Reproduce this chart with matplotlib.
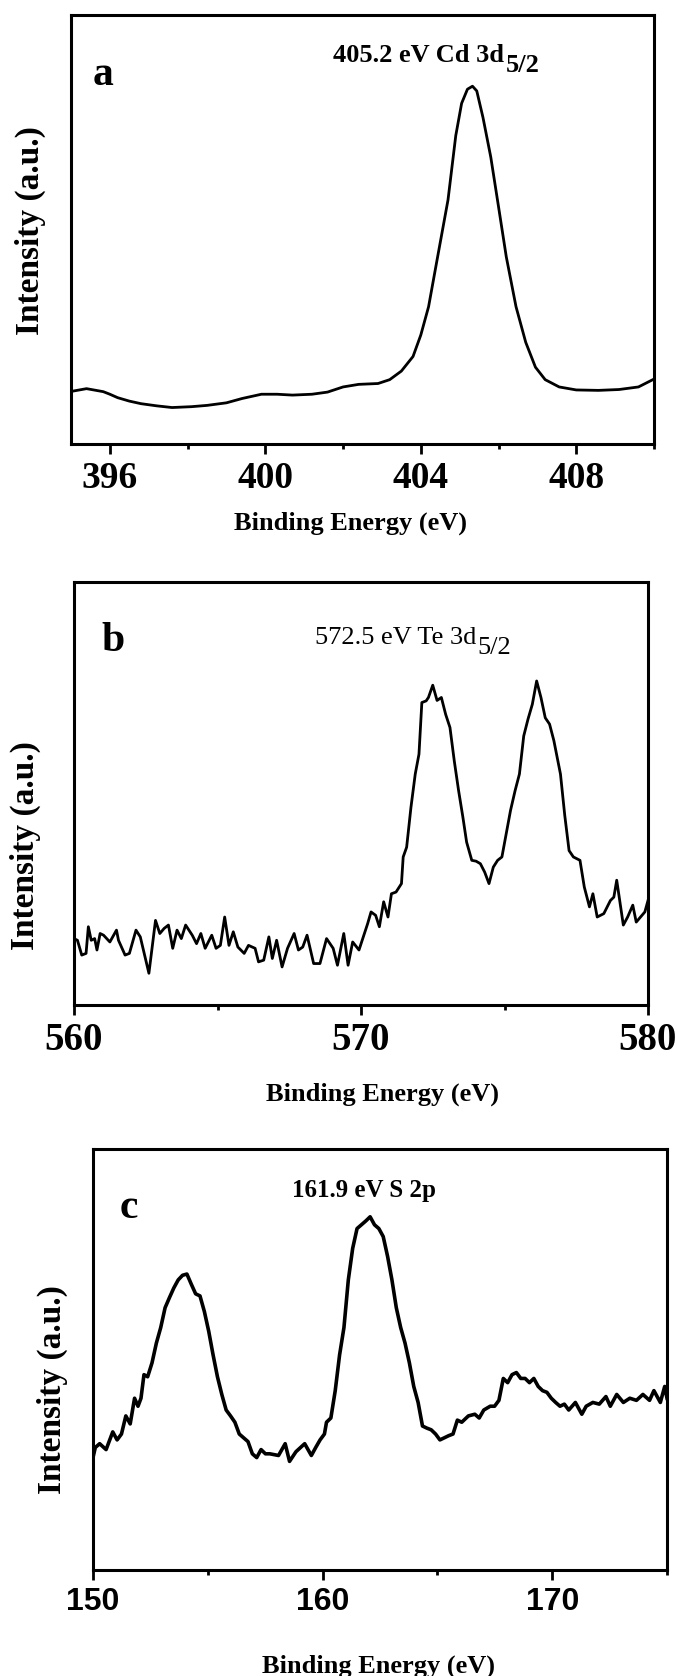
"""XPS spectra of Cd 3d, Te 3d and S 2p regions, three stacked panels."""

import matplotlib

matplotlib.use("Agg")
import matplotlib.pyplot as plt  # noqa: E402
from matplotlib.ticker import MultipleLocator  # noqa: E402

plt.rcParams["font.family"] = ["Liberation Serif", "DejaVu Serif"]

# panel a: Cd 3d5/2 (binding energy eV, intensity a.u.)
cd_energy = [
    394.97, 395.4, 395.83, 396.0, 396.2, 396.5, 396.8, 397.2, 397.6, 398.1,
    398.5, 399.0, 399.4, 399.9, 400.3, 400.7, 401.2, 401.6, 402.0, 402.4,
    402.9, 403.2, 403.5, 403.8, 404.0, 404.2, 404.4, 404.7, 404.9, 405.05,
    405.2, 405.33, 405.44, 405.6, 405.8, 406.0, 406.2, 406.45, 406.7, 406.95,
    407.2, 407.56, 408.0, 408.57, 409.1, 409.6, 409.97,
]
cd_counts = [
    12.2, 12.9, 12.2, 11.6, 10.8, 10.0, 9.4, 8.9, 8.5, 8.7,
    9.0, 9.6, 10.6, 11.6, 11.6, 11.4, 11.6, 12.1, 13.3, 13.9,
    14.1, 15.0, 17.0, 20.4, 25.4, 32.0, 42.0, 56.9, 71.9, 79.4,
    82.7, 83.4, 82.3, 76.1, 66.9, 55.3, 43.6, 32.0, 23.7, 17.9,
    15.0, 13.3, 12.6, 12.5, 12.7, 13.3, 15.0,
]

# panel b: Te 3d5/2
te_energy = [
    560.00, 560.12, 560.27, 560.42, 560.50, 560.60, 560.72, 560.80, 560.91, 561.03,
    561.25, 561.48, 561.55, 561.78, 561.93, 562.16, 562.31, 562.61, 562.84, 562.99,
    563.14, 563.29, 563.44, 563.59, 563.74, 563.89, 564.12, 564.27, 564.42, 564.57,
    564.80, 564.95, 565.10, 565.25, 565.40, 565.55, 565.71, 565.93, 566.08, 566.31,
    566.43, 566.61, 566.79, 566.91, 567.06, 567.25, 567.44, 567.67, 567.82, 567.97,
    568.12, 568.35, 568.57, 568.80, 569.03, 569.18, 569.40, 569.55, 569.71, 569.93,
    570.23, 570.35, 570.51, 570.64, 570.79, 570.94, 571.06, 571.22, 571.41, 571.47,
    571.59, 571.74, 571.89, 572.02, 572.12, 572.27, 572.35, 572.50, 572.65, 572.80,
    572.95, 573.10, 573.25, 573.40, 573.55, 573.68, 573.86, 574.01, 574.16, 574.31,
    574.46, 574.61, 574.76, 574.91, 575.06, 575.21, 575.37, 575.52, 575.67, 575.82,
    575.97, 576.12, 576.27, 576.42, 576.57, 576.72, 576.95, 577.10, 577.25, 577.40,
    577.63, 577.78, 577.96, 578.08, 578.23, 578.46, 578.69, 578.81, 578.91, 579.14,
    579.29, 579.47, 579.59, 579.89, 580.00,
]
te_counts = [
    15.7, 15.3, 11.8, 12.2, 18.5, 15.3, 15.7, 13.0, 16.9, 16.5,
    14.9, 17.7, 15.3, 11.8, 12.2, 17.7, 16.1, 7.5, 20.0, 16.9,
    18.1, 18.9, 13.4, 17.7, 15.7, 18.9, 16.5, 14.5, 16.9, 13.4,
    16.5, 13.4, 14.1, 20.8, 14.1, 17.3, 13.7, 12.2, 14.1, 13.4,
    10.2, 10.6, 16.1, 11.0, 15.3, 9.0, 13.4, 16.9, 13.0, 13.7,
    16.5, 9.8, 9.8, 15.7, 13.4, 9.4, 16.9, 9.4, 14.9, 13.0,
    19.2, 22.0, 21.2, 18.5, 24.4, 20.8, 26.3, 26.7, 28.7, 35.0,
    37.3, 46.7, 54.6, 59.3, 71.5, 71.9, 72.7, 75.6, 72.0, 72.7,
    68.7, 65.6, 57.7, 50.7, 44.4, 38.5, 34.2, 34.0, 33.4, 31.4,
    28.7, 32.6, 34.2, 35.0, 40.5, 46.0, 50.7, 54.6, 63.6, 67.6,
    71.1, 76.6, 72.7, 67.9, 66.4, 62.5, 54.6, 44.8, 36.5, 35.0,
    34.2, 27.9, 23.2, 26.3, 20.8, 21.6, 24.7, 25.5, 29.5, 18.9,
    20.8, 23.6, 19.6, 22.0, 24.7,
]

# panel c: S 2p
s_energy = [
    150.00, 150.10, 150.29, 150.57, 150.86, 151.05, 151.24, 151.43, 151.62, 151.81,
    151.96, 152.09, 152.22, 152.38, 152.57, 152.76, 152.95, 153.14, 153.33, 153.52,
    153.71, 153.90, 154.09, 154.28, 154.47, 154.66, 154.85, 155.04, 155.23, 155.42,
    155.61, 155.80, 155.99, 156.18, 156.37, 156.56, 156.75, 156.94, 157.13, 157.32,
    157.51, 157.70, 158.08, 158.37, 158.56, 158.84, 159.22, 159.51, 159.70, 159.89,
    160.08, 160.17, 160.36, 160.55, 160.74, 160.93, 161.12, 161.31, 161.50, 161.69,
    161.88, 162.07, 162.26, 162.45, 162.64, 162.83, 163.02, 163.21, 163.40, 163.59,
    163.78, 163.97, 164.16, 164.35, 164.54, 164.73, 164.92, 165.11, 165.30, 165.49,
    165.68, 165.87, 166.06, 166.35, 166.63, 166.82, 167.02, 167.30, 167.49, 167.68,
    167.87, 168.06, 168.25, 168.44, 168.63, 168.82, 169.01, 169.20, 169.39, 169.58,
    169.77, 169.96, 170.15, 170.34, 170.53, 170.72, 171.01, 171.29, 171.48, 171.77,
    172.05, 172.34, 172.53, 172.81, 173.10, 173.38, 173.67, 173.95, 174.24, 174.43,
    174.71, 174.90, 175.00,
]
s_counts = [
    26.7, 29.1, 30.0, 28.6, 32.8, 30.9, 32.3, 36.6, 34.7, 40.8,
    38.9, 40.8, 46.4, 45.9, 49.2, 53.9, 57.6, 62.3, 64.7, 67.0,
    68.9, 70.0, 70.3, 67.9, 65.6, 65.1, 61.4, 56.7, 51.1, 45.9,
    41.7, 38.0, 36.6, 35.1, 32.3, 31.4, 30.5, 27.6, 26.7, 28.6,
    27.6, 27.6, 27.2, 30.0, 25.8, 28.1, 30.0, 27.2, 29.1, 30.9,
    32.3, 35.1, 36.1, 42.6, 51.1, 57.6, 68.9, 76.4, 81.1, 82.0,
    82.9, 83.9, 82.0, 81.1, 79.2, 74.5, 68.9, 62.3, 57.6, 53.9,
    49.2, 43.6, 39.8, 34.2, 33.7, 33.3, 32.3, 30.9, 31.4, 31.9,
    32.3, 35.6, 35.1, 36.6, 37.0, 36.1, 38.0, 38.9, 38.9, 40.3,
    45.5, 44.5, 46.4, 46.9, 45.5, 45.5, 44.5, 45.5, 43.6, 42.6,
    42.2, 40.8, 39.8, 38.9, 39.4, 38.0, 39.8, 37.0, 38.9, 39.8,
    39.4, 41.2, 38.9, 41.7, 39.8, 40.8, 40.3, 41.7, 40.3, 42.6,
    39.8, 43.6, 40.8,
]

PANELS = [
    dict(x=cd_energy, y=cd_counts, xlim=(395, 410), major=4, minor=2,
         letter="a", note="405.2 eV Cd 3d", sub="5/2", note_xy=(401.74, 89.0),
         note_weight="bold", note_size=19, rect=[71, 15, 654, 444],
         tick_font=("Liberation Serif", 27), xlabel_xy=(0.480, -0.184),
         ylabel_xy=(-0.070, 0.497), letter_xy=(0.055, 0.86), lw=2.0),
    dict(x=te_energy, y=te_counts, xlim=(560, 580), major=10, minor=5,
         letter="b", note="572.5 eV Te 3d", sub="5/2", note_xy=(568.4, 85.3),
         note_weight="normal", note_size=19, rect=[74, 582, 648, 1005],
         tick_font=("Liberation Serif", 28), xlabel_xy=(0.538, -0.210),
         ylabel_xy=(-0.084, 0.376), letter_xy=(0.068, 0.86), lw=2.0),
    dict(x=s_energy, y=s_counts, xlim=(150, 175), major=10, minor=5,
         letter="c", note="161.9 eV S 2p", sub=None, note_xy=(158.67, 88.6),
         note_weight="bold", note_size=18, rect=[93, 1149, 667, 1570],
         tick_font=("Liberation Sans", 23), xlabel_xy=(0.498, -0.228),
         ylabel_xy=(-0.070, 0.428), letter_xy=(0.063, 0.86), lw=2.6),
]

W, H = 677, 1676
fig = plt.figure(figsize=(W / 100, H / 100), dpi=100)

for p in PANELS:
    x0, y0, x1, y1 = p["rect"]
    ax = fig.add_axes([x0 / W, 1 - y1 / H, (x1 - x0) / W, (y1 - y0) / H])
    ax.plot(p["x"], p["y"], color="black", lw=p["lw"])
    ax.set_xlim(*p["xlim"])
    ax.set_ylim(0, 100)
    ax.set_yticks([])
    ax.xaxis.set_major_locator(MultipleLocator(p["major"]))
    ax.xaxis.set_minor_locator(MultipleLocator(p["minor"]))
    ax.tick_params(axis="x", which="major", direction="out", length=7, width=2, pad=5)
    ax.tick_params(axis="x", which="minor", direction="out", length=3.5, width=2)
    for s in ax.spines.values():
        s.set_linewidth(2.2)
    fam, size = p["tick_font"]
    for lbl in ax.get_xticklabels():
        lbl.set_fontfamily(fam)
        lbl.set_fontsize(size)
        lbl.set_fontweight("bold")

    ax.text(*p["xlabel_xy"], "Binding Energy (eV)", transform=ax.transAxes,
            ha="center", va="center", fontsize=19, fontweight="bold")
    ax.text(*p["ylabel_xy"], "Intensity (a.u.)", transform=ax.transAxes,
            ha="center", va="center", rotation=90, fontsize=24, fontweight="bold")
    ax.text(*p["letter_xy"], p["letter"], transform=ax.transAxes,
            ha="center", va="center", fontsize=30, fontweight="bold")
    note = ax.text(*p["note_xy"], p["note"], ha="left", va="baseline",
                   fontsize=p["note_size"], fontweight=p["note_weight"])
    if p["sub"]:
        # large subscript sitting just under the baseline at the end of the note
        ax.annotate(p["sub"], xy=(1.0, 0.0), xycoords=note,
                    xytext=(1, 1), textcoords="offset points",
                    ha="left", va="center", fontsize=p["note_size"],
                    fontweight=p["note_weight"])

fig.savefig("out.png", dpi=100)
